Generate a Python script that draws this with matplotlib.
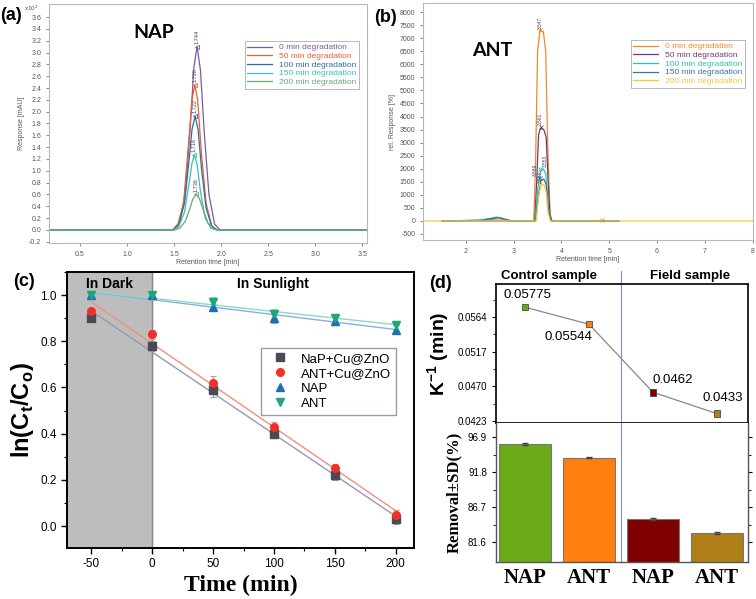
import numpy as np
import matplotlib
matplotlib.use('Agg')
import matplotlib.pyplot as plt
from matplotlib.ticker import FormatStrFormatter, MultipleLocator

plt.rcParams['font.family'] = ['Liberation Sans', 'DejaVu Sans']
plt.rcParams['mathtext.fontset'] = 'custom'
plt.rcParams['mathtext.rm'] = 'Liberation Sans'
plt.rcParams['mathtext.bf'] = 'Liberation Sans:bold'
plt.rcParams['axes.unicode_minus'] = False

# ---- (a) NAP chromatograms (x in min, y in 10^2 mAU)
nap_labels = ['0 min degradation', '50 min degradation', '100 min degradation',
              '150 min degradation', '200 min degradation']
nap_colors = ['#7b5b9b', '#f0602a', '#2c6ca8', '#3cc0b8', '#6aa878']
nap_x0 = [0.17, 1.50, 1.56, 1.62, 1.67, 1.71, 1.744, 1.78, 1.82, 1.87, 1.93, 1.99, 3.55]
nap_y0 = [0, 0, 0.12, 0.65, 1.7, 2.75, 3.1, 2.7, 1.65, 0.6, 0.1, 0, 0]
nap_x50 = [0.17, 1.48, 1.54, 1.60, 1.65, 1.69, 1.72, 1.75, 1.79, 1.84, 1.90, 1.96, 3.55]
nap_y50 = [0, 0, 0.1, 0.45, 1.4, 2.2, 2.45, 2.2, 1.3, 0.45, 0.07, 0, 0]
nap_x100 = [0.17, 1.49, 1.55, 1.61, 1.66, 1.69, 1.722, 1.755, 1.79, 1.84, 1.90, 1.96, 3.55]
nap_y100 = [0, 0, 0.1, 0.45, 1.2, 1.7, 1.92, 1.7, 1.05, 0.37, 0.06, 0, 0]
nap_x150 = [0.17, 1.49, 1.55, 1.61, 1.66, 1.69, 1.716, 1.745, 1.78, 1.83, 1.89, 1.95, 3.55]
nap_y150 = [0, 0, 0.06, 0.3, 0.8, 1.13, 1.27, 1.1, 0.65, 0.2, 0.03, 0, 0]
nap_x200 = [0.17, 1.50, 1.56, 1.62, 1.67, 1.70, 1.736, 1.77, 1.81, 1.86, 1.92, 1.98, 3.55]
nap_y200 = [0, 0, 0.03, 0.15, 0.37, 0.53, 0.6, 0.53, 0.33, 0.12, 0.02, 0, 0]
nap_peak_t = [1.744, 1.720, 1.722, 1.716, 1.736]
nap_peak_h = [3.1, 2.45, 1.92, 1.27, 0.6]

# ---- (b) ANT chromatograms
ant_labels = nap_labels
ant_colors = ['#f08a2a', '#6a3a7a', '#30c0b0', '#2a7aa8', '#f8c840']
ant_x0 = [1.5, 2.2, 2.7, 3.0, 3.42, 3.46, 3.50, 3.55, 3.62, 3.67, 3.71, 3.76, 3.80, 5.2]
ant_y0 = [0, 20, 80, 0, 0, 2500, 6500, 7300, 7250, 6500, 3000, 300, 0, 0]
ant_x50 = [1.5, 3.44, 3.48, 3.52, 3.56, 3.63, 3.68, 3.72, 3.76, 3.80, 5.2]
ant_y50 = [0, 0, 1500, 3300, 3550, 3500, 3200, 1500, 200, 0, 0]
ant_x100 = [1.5, 2.3, 2.65, 2.9, 3.45, 3.50, 3.56, 3.62, 3.67, 3.72, 3.77, 5.2]
ant_y100 = [0, 30, 150, 0, 0, 1200, 1900, 2000, 1800, 600, 0, 0]
ant_x150 = [1.5, 2.3, 2.7, 2.95, 3.46, 3.51, 3.57, 3.63, 3.68, 3.73, 3.78, 5.2]
ant_y150 = [0, 20, 130, 0, 0, 900, 1550, 1600, 1400, 400, 0, 0]
ant_x200 = [1.1, 3.47, 3.52, 3.57, 3.63, 3.68, 3.72, 3.77, 8.0]
ant_y200 = [0, 0, 900, 1400, 1400, 1100, 300, 0, 0]
ant_peak_t = [3.547, 3.561, 3.553, 3.559, 3.550]
ant_peak_h = [7300, 3600, 2000, 1650, 1400]
ant_label_x = [3.547, 3.561, 3.66, 3.46, 3.56]

# ---- (c) kinetics
time = [-50, 0, 50, 100, 150, 200]
nap_cu = [0.90, 0.78, 0.59, 0.40, 0.22, 0.03]
ant_cu = [0.93, 0.83, 0.62, 0.43, 0.25, 0.05]
nap_only = [1.00, 1.00, 0.95, 0.90, 0.89, 0.85]
ant_only = [1.00, 1.00, 0.97, 0.92, 0.90, 0.87]
nap_cu_err = [0.01, 0.02, 0.03, 0.02, 0.02, 0.02]
ant_cu_err = [0.01, 0.02, 0.03, 0.02, 0.02, 0.02]
nap_only_err = [0.01, 0.01, 0.01, 0.02, 0.02, 0.02]
ant_only_err = [0.01, 0.01, 0.02, 0.02, 0.02, 0.02]

# ---- (d) rate constants and removal
samples = ['NAP', 'ANT', 'NAP', 'ANT']
k_rate = [0.05775, 0.05544, 0.0462, 0.0433]
k_text = ['0.05775', '0.05544', '0.0462', '0.0433']
removal = [95.9, 93.9, 84.95, 82.9]
removal_sd = [0.1, 0.1, 0.1, 0.1]
bar_colors = ['#6aaa18', '#ff7f0e', '#800000', '#b08018']

W, H = 756, 599


def box(l, t, r, b):
    return [l / W, 1 - b / H, (r - l) / W, (b - t) / H]


fig = plt.figure(figsize=(W / 100, H / 100), dpi=100)


def chrom_style(ax):
    for s in ax.spines.values():
        s.set_color('#b8b8b8')
        s.set_linewidth(0.8)
    ax.tick_params(labelsize=5, colors='#555555', length=2, width=0.5)


# ================= (a)
ax = fig.add_axes(box(49, 4, 367, 243))
for xs, ys, c, lab in zip([nap_x0, nap_x50, nap_x100, nap_x150, nap_x200],
                          [nap_y0, nap_y50, nap_y100, nap_y150, nap_y200],
                          nap_colors, nap_labels):
    ax.plot(xs, ys, color=c, lw=0.9, label=lab)
for t, h, c in zip(nap_peak_t, nap_peak_h, nap_colors):
    ax.plot(t, h, marker='<', ms=3, mfc='none', color=c, mew=0.6)
    ax.text(t, h + 0.05, f'{t:.3f}', rotation=90, fontsize=4, ha='center', va='bottom', color='#444466')
ax.set_xlim(0.17, 3.55)
ax.set_ylim(-0.22, 3.82)
ax.set_xticks([0.5, 1.0, 1.5, 2.0, 2.5, 3.0, 3.5])
ax.set_yticks(np.round(np.arange(-2, 37, 2) / 10, 1))
ax.xaxis.set_major_formatter(FormatStrFormatter('%.1f'))
ax.yaxis.set_major_formatter(FormatStrFormatter('%.1f'))
chrom_style(ax)
ax.set_xlabel('Retention time [min]', fontsize=5, color='#555555', labelpad=1)
ax.set_ylabel('Response [mAU]', fontsize=5, color='#555555', labelpad=3)
ax.text(-0.08, 1.0, r'x10$^{2}$', transform=ax.transAxes, fontsize=4.5, color='#555555', va='top')
ax.text(0.33, 0.88, 'NAP', transform=ax.transAxes, fontsize=14, fontweight='bold',
        family='Lato', ha='center', va='center')
leg = ax.legend(loc='upper right', bbox_to_anchor=(0.987, 0.862), fontsize=6, labelcolor='linecolor',
                fancybox=False, edgecolor='#999999', handlelength=3, borderpad=0.3, labelspacing=0.1)
leg.get_frame().set_linewidth(0.6)

# ================= (b)
ax = fig.add_axes(box(423, 3, 753, 240))
for xs, ys, c, lab in zip([ant_x0, ant_x50, ant_x100, ant_x150, ant_x200],
                          [ant_y0, ant_y50, ant_y100, ant_y150, ant_y200],
                          ant_colors, ant_labels):
    ax.plot(xs, ys, color=c, lw=0.9, label=lab)
for t, h, c, lx in zip(ant_peak_t, ant_peak_h, ant_colors, ant_label_x):
    ax.plot(t, h, marker='x', ms=3, color=c, mew=0.6)
    ax.text(lx, h + 60, f'{t:.3f}', rotation=90, fontsize=3.5, ha='center', va='bottom', color='#444466')
ax.plot(4.85, 40, marker='x', ms=3, color=ant_colors[0], mew=0.6)
ax.set_xlim(1.1, 8.01)
ax.set_ylim(-730, 8350)
ax.set_xticks(range(2, 9))
ax.set_yticks(range(-500, 8001, 500))
chrom_style(ax)
ax.set_xlabel('Retention time [min]', fontsize=5, color='#555555', labelpad=1)
ax.set_ylabel('rel. Response [%]', fontsize=5, color='#555555', labelpad=3)
ax.text(0.21, 0.8, 'ANT', transform=ax.transAxes, fontsize=14, fontweight='bold',
        family='Lato', ha='center', va='center')
leg = ax.legend(loc='upper right', bbox_to_anchor=(0.988, 0.861), fontsize=6, labelcolor='linecolor',
                fancybox=False, edgecolor='#999999', handlelength=3, borderpad=0.3, labelspacing=0.1)
leg.get_frame().set_linewidth(0.6)

# ================= (c)
ax = fig.add_axes(box(67, 272, 414, 548))
ax.axvspan(-70, 0, color='#bdbdbd', zorder=0)
ax.axvline(0, color='#888888', lw=1, zorder=0)
series = [
    (nap_cu, nap_cu_err, 's', '#4a4a55', '#9898b0', 'NaP+Cu@ZnO'),
    (ant_cu, ant_cu_err, 'o', '#ee3028', '#f09080', 'ANT+Cu@ZnO'),
    (nap_only, nap_only_err, '^', '#1f6fb4', '#88b0e0', 'NAP'),
    (ant_only, ant_only_err, 'v', '#1aa878', '#90d8c0', 'ANT'),
]
t = np.array(time)
for ys, err, m, c, lc, lab in series:
    slope, icpt = np.polyfit(t, ys, 1)
    ax.plot(t, slope * t + icpt, color=lc, lw=1, zorder=1)
    ax.errorbar(time, ys, yerr=err, fmt='none', ecolor=lc, capsize=2,
                elinewidth=0.8, capthick=0.8, zorder=2)
    ax.plot(time, ys, m, color=c, ms=5.5, ls='none', label=lab, zorder=3)
ax.set_xlim(-70, 215)
ax.set_ylim(-0.095, 1.10)
ax.set_xticks(time)
ax.xaxis.set_minor_locator(MultipleLocator(25))
ax.yaxis.set_major_locator(MultipleLocator(0.2))
ax.yaxis.set_minor_locator(MultipleLocator(0.1))
ax.yaxis.set_major_formatter(FormatStrFormatter('%.1f'))
ax.tick_params(labelsize=8.5, direction='out', length=4, width=1)
ax.tick_params(which='minor', direction='out', length=2.5, width=0.8)
for s in ax.spines.values():
    s.set_linewidth(1.4)
ax.text(-35, 1.047, 'In Dark', fontsize=10, fontweight='bold', ha='center', va='center')
ax.text(99, 1.047, 'In Sunlight', fontsize=10, fontweight='bold', ha='center', va='center')
ax.set_ylabel(r'ln(C$_\mathbf{t}$/C$_\mathbf{o}$)', fontsize=17, fontweight='bold', labelpad=3)
ax.set_xlabel('Time (min)', fontsize=17, fontweight='bold', family='Liberation Serif', labelpad=3)
leg = ax.legend(loc='upper right', bbox_to_anchor=(0.968, 0.75), fontsize=9.5, fancybox=False,
                edgecolor='#8080a0', borderpad=0.4, labelspacing=0.2, handletextpad=0.6)

# ================= (d) top: rate constant
xpos = np.arange(1, len(samples) + 1)
ax1 = fig.add_axes(box(496, 284, 748, 423))
ax1.plot(xpos, k_rate, color='#888888', lw=0.9, zorder=1)
ax1.scatter(xpos, k_rate, marker='s', s=22, c=bar_colors, edgecolors='#333333', linewidths=0.5, zorder=3)
offs = [(2, 9), (-15, -9), (14, 9), (4, 11)]
for xi, k, lab, o in zip(xpos, k_rate, k_text, offs):
    ax1.annotate(lab, (xi, k), xytext=o, textcoords='offset points', fontsize=9.5,
                 ha='center', va='center')
ax1.set_xlim(0.547, 4.484)
ax1.set_ylim(0.04203, 0.0609)
ax1.set_yticks([0.0423, 0.0470, 0.0517, 0.0564])
ax1.yaxis.set_major_formatter(FormatStrFormatter('%.4f'))
ax1.set_yticks([0.04465, 0.04935, 0.05405, 0.05875], minor=True)
ax1.set_xticks([])
ax1.tick_params(labelsize=7, direction='out', length=3)
ax1.tick_params(which='minor', direction='out', length=2)
for s in ax1.spines.values():
    s.set_linewidth(1.2)
ax1.axvline(2.5, ymin=0, ymax=1.09, color='#8888cc', lw=0.8, clip_on=False)
ax1.text(0.21, 1.055, 'Control sample', transform=ax1.transAxes, fontsize=9.5,
         fontweight='bold', ha='center', va='center')
ax1.text(0.77, 1.055, 'Field sample', transform=ax1.transAxes, fontsize=9.5,
         fontweight='bold', ha='center', va='center')
ax1.set_ylabel(r'K$^{\mathbf{-1}}$ (min)', fontsize=14, fontweight='bold', labelpad=4)

# ================= (d) bottom: removal
ax2 = fig.add_axes(box(496, 423, 748, 562))
ax2.bar(xpos, removal, width=0.81, color=bar_colors, edgecolor='#777777', lw=0.8,
        yerr=removal_sd, capsize=2, error_kw=dict(elinewidth=0.6, ecolor='#444444'))
ax2.axvline(2.5, color='#8888cc', lw=0.8)
ax2.set_xlim(0.547, 4.484)
ax2.set_ylim(78.69, 98.94)
ax2.set_yticks([81.6, 86.7, 91.8, 96.9])
ax2.yaxis.set_major_formatter(FormatStrFormatter('%.1f'))
ax2.set_yticks([84.15, 89.25, 94.35], minor=True)
ax2.set_xticks(xpos)
ax2.set_xticklabels(samples, fontsize=15, fontweight='bold', family='Liberation Serif')
ax2.tick_params(axis='x', length=0, pad=4)
ax2.tick_params(axis='y', labelsize=7, direction='out', length=3, right=True)
ax2.tick_params(axis='y', which='minor', direction='out', length=2, right=True)
for s in ax2.spines.values():
    s.set_linewidth(1.0)
    s.set_color('#555555')
ax2.spines['top'].set_visible(False)
ax2.set_ylabel('Removal±SD(%)', fontsize=12, fontweight='bold', family='Liberation Serif', labelpad=4)

# panel letters
fig.text(11 / W, 1 - 15 / H, '(a)', fontsize=13, fontweight='bold', ha='center', va='center')
fig.text(385 / W, 1 - 17 / H, '(b)', fontsize=13, fontweight='bold', ha='center', va='center')
fig.text(24 / W, 1 - 281 / H, '(c)', fontsize=13, fontweight='bold', ha='center', va='center')
fig.text(441 / W, 1 - 283 / H, '(d)', fontsize=13, fontweight='bold', ha='center', va='center')

fig.savefig('out.png', dpi=100)
